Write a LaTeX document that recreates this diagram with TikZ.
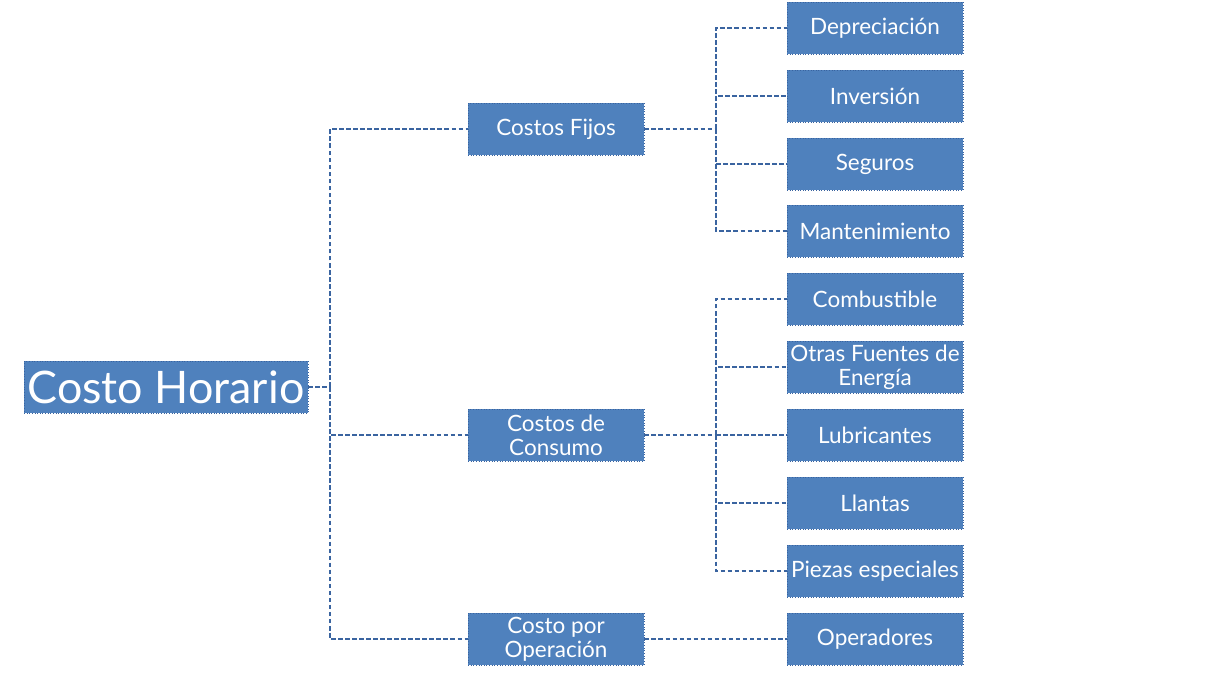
\documentclass[tikz,border=0pt]{standalone}
\usepackage{fontspec}
\setmainfont{Lato}
\usepackage{tikz}

\definecolor{boxblue}{HTML}{4F81BD}
\definecolor{lineblue}{HTML}{3A64A0}

\begin{document}
\begin{tikzpicture}[x=0.02cm, y=-0.02cm,
    box/.style={fill=boxblue, draw=lineblue, densely dotted, line width=0.5pt,
      text=white, align=center, inner sep=1pt, minimum width=3.52cm,
      minimum height=1.04cm, font=\fontsize{12.8}{13.6}\selectfont},
    rootbox/.style={box, minimum width=5.68cm, font=\fontsize{25.5}{26}\selectfont},
    link/.style={draw=lineblue, line width=1.2pt, dash pattern=on 2.6pt off 1.4pt}]
  \useasboundingbox (0,0) rectangle (1213,678);
  % root and cost groups
  \node[rootbox] (horario) at (166,387) {Costo Horario};
  \node[box] (fijos) at (556,129) {Costos Fijos};
  \node[box] (consumo) at (556,435) {Costos de\\Consumo};
  \node[box] (operacion) at (556,639) {Costo por\\Operaci\'on};
  % items
  \node[box] (deprec) at (875,28) {Depreciaci\'on};
  \node[box] (inversion) at (875,96) {Inversi\'on};
  \node[box] (seguros) at (875,164) {Seguros};
  \node[box] (manten) at (875,231) {Mantenimiento};
  \node[box] (combust) at (875,299) {Combustible};
  \node[box] (energia) at (875,367) {Otras Fuentes de\\Energ\'ia};
  \node[box] (lubric) at (875,435) {Lubricantes};
  \node[box] (llantas) at (875,503) {Llantas};
  \node[box] (piezas) at (875,571) {Piezas especiales};
  \node[box] (operad) at (875,639) {Operadores};
  % branch points
  \coordinate (busA) at (330,387);
  \coordinate (busB) at (716,129);
  \coordinate (busC) at (716,435);
  \draw[link] (horario.east) -- (busA);
  \draw[link] (busA) |- (fijos.west);
  \draw[link] (busA) |- (consumo.west);
  \draw[link] (busA) |- (operacion.west);
  \draw[link] (fijos.east) -- (busB);
  \foreach \n in {deprec,inversion,seguros,manten}
    \draw[link] (busB) |- (\n.west);
  \draw[link] (consumo.east) -- (busC);
  \foreach \n in {combust,energia,lubric,llantas,piezas}
    \draw[link] (busC) |- (\n.west);
  \draw[link] (operacion.east) -- (operad.west);
\end{tikzpicture}
\end{document}
